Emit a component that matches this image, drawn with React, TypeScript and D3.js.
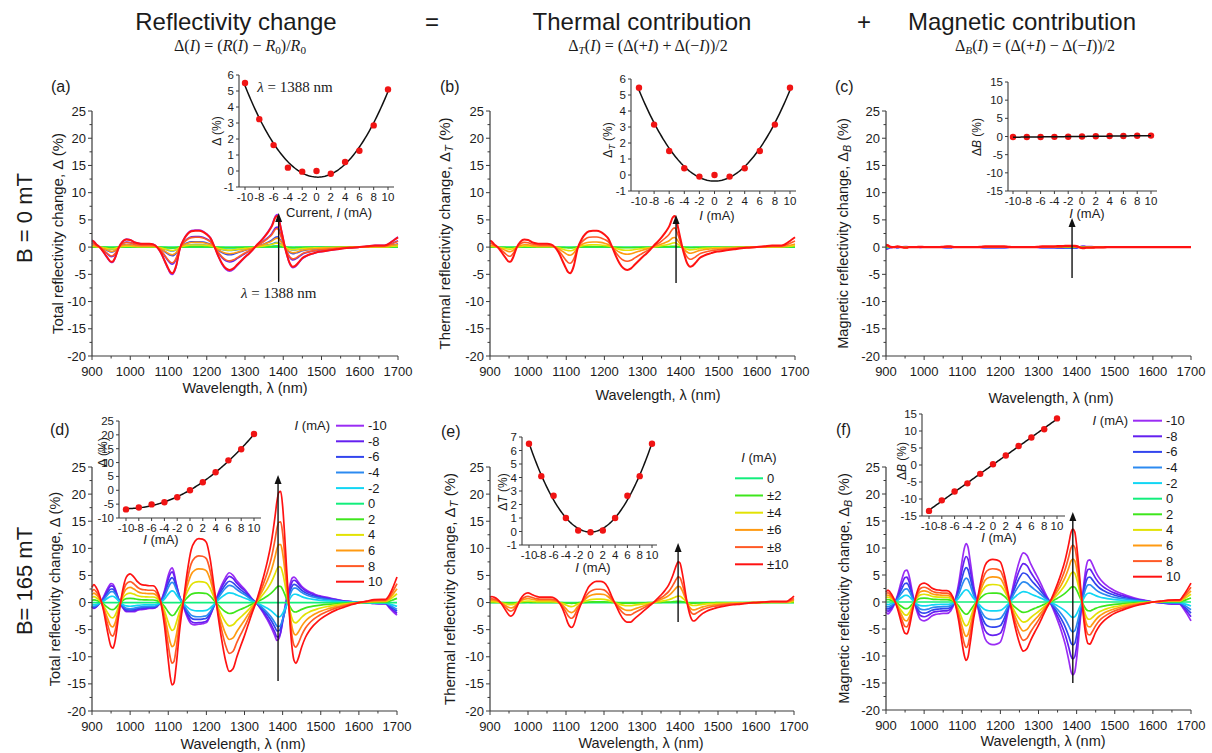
import React from "react";
import * as d3 from "d3";

const FONT = "'Liberation Sans', Arial, Helvetica, sans-serif";
const SERIF = "'Liberation Serif', 'Times New Roman', serif";
const INK = "#1b1b1b";
const AXIS = "#3a3a3a";

// ---------------- DATA ----------------
const wavelengths = [
  900, 905, 910, 920, 930, 940, 950, 955, 960, 970,
  980, 990, 1000, 1010, 1020, 1030, 1040, 1050, 1060, 1070,
  1080, 1090, 1100, 1105, 1110, 1115, 1120, 1130, 1140, 1150,
  1160, 1170, 1180, 1190, 1200, 1210, 1220, 1230, 1240, 1250,
  1260, 1270, 1280, 1290, 1300, 1310, 1320, 1330, 1340, 1350,
  1360, 1370, 1380, 1385, 1390, 1395, 1400, 1405, 1410, 1415,
  1420, 1425, 1430, 1435, 1440, 1450, 1460, 1470, 1480, 1490,
  1500, 1520, 1540, 1560, 1580, 1600, 1620, 1640, 1660, 1670,
  1680, 1690, 1700,
];

// B = 0 mT, thermal part at |I| = 10 mA (panel b, red)
const thermalB0 = [
  1.2, 1.0, 0.6, 0.0, -0.9, -1.9, -2.7, -2.6, -2.0, -0.1,
  1.0, 1.4, 1.3, 0.9, 0.7, 0.6, 0.6, 0.6, 0.5, 0.0,
  -1.0, -2.5, -4.0, -4.6, -4.8, -4.4, -3.4, -0.2, 1.4, 2.4,
  2.9, 3.0, 3.0, 2.8, 2.3, 1.6, 0.1, -1.6, -3.0, -3.9,
  -4.2, -3.9, -3.2, -2.5, -1.8, -1.2, -0.5, 0.3, 1.0, 1.8,
  2.7, 3.8, 5.5, 5.7, 4.6, 3.0, 1.4, -0.2, -1.5, -2.6,
  -3.3, -3.6, -3.5, -3.2, -2.8, -2.0, -1.6, -1.3, -1.1, -0.9,
  -0.8, -0.6, -0.4, -0.2, -0.1, 0, 0.15, 0.3, 0.3, 0.4,
  0.8, 1.3, 1.8,
];

// B = 0 mT, magnetic part at I = +10 mA (panel c, red)
const magneticB0 = [
  0.4, 0.3, 0.1, 0.0, 0.1, 0.0, -0.1, -0.1, 0.0, 0.0,
  0.0, 0.05, 0.0, 0.0, 0.0, 0.0, 0.0, 0.05, 0.1, 0.1,
  0.0, 0.0, 0.0, 0.0, 0.0, 0.0, 0.0, 0.0, 0.0, 0.05,
  0.1, 0.1, 0.1, 0.1, 0.1, 0.1, 0.05, 0.0, 0.0, 0.0,
  0.0, 0.0, 0.0, 0.0, 0.05, 0.1, 0.1, 0.1, 0.1, 0.15,
  0.15, 0.2, 0.2, 0.2, 0.2, 0.2, 0.15, 0.05, -0.1, -0.15,
  -0.15, -0.1, -0.1, -0.1, -0.1, -0.05, -0.05, -0.05, 0, 0,
  0, 0, 0, 0, 0, 0, 0, 0, 0, 0,
  0, 0, 0,
];

// B = 165 mT, thermal part at |I| = 10 mA (panel e, red)
const thermalB165 = [
  1.0, 1.1, 1.0, 0.6, -0.2, -1.3, -2.3, -2.5, -2.3, -0.9,
  0.6, 1.5, 1.8, 1.5, 1.2, 1.0, 1.0, 1.0, 1.0, 0.8,
  0.2, -1.0, -2.8, -3.8, -4.4, -4.6, -4.2, -2.0, -0.2, 1.5,
  2.9, 3.6, 3.9, 3.9, 3.7, 2.8, 1.2, -0.3, -1.8, -3.0,
  -3.6, -3.6, -3.0, -2.4, -1.8, -1.2, -0.6, 0, 0.7, 1.4,
  2.2, 3.2, 4.8, 5.8, 6.8, 7.5, 7.3, 5.8, 3.8, 1.5,
  -0.5, -2.0, -3.0, -3.4, -3.3, -2.6, -2.0, -1.6, -1.3, -1.1,
  -0.9, -0.6, -0.4, -0.3, -0.1, 0, 0.1, 0.2, 0.2, 0.2,
  0.2, 0.6, 1.2,
];

// B = 165 mT, magnetic part at I = +10 mA (panel f, red)
const magneticB165 = [
  1.8, 2.2, 1.9, 0.7, -1.2, -3.8, -5.8, -5.9, -5.0, -1.5,
  1.5, 3.2, 3.5, 3.2, 2.6, 2.3, 2.2, 2.1, 2.1, 1.6,
  0, -3.2, -7.8, -9.8, -10.8, -10.2, -8.0, -3.0, 0.6, 4.2,
  6.8, 7.7, 7.9, 7.8, 7.4, 5.2, 1.8, -1.8, -5.0, -7.6,
  -9.1, -8.6, -7.0, -5.6, -4.3, -2.8, -1.3, 0, 1.6, 3.4,
  5.4, 7.8, 11.0, 12.8, 13.5, 13.0, 10.5, 7.0, 3.0, -0.5,
  -4.0, -6.5, -7.7, -7.8, -7.2, -5.6, -4.4, -3.6, -3.0, -2.5,
  -2.1, -1.5, -1.0, -0.6, -0.3, 0, 0.15, 0.35, 0.4, 0.4,
  1.2, 2.3, 3.5,
];

const currents = [-10, -8, -6, -4, -2, 0, 2, 4, 6, 8, 10];
const currentLabels = ["-10", "-8", "-6", "-4", "-2", "0", "2", "4", "6", "8", "10"];
const currentColors = [
  "#9A2CF4", "#6420F0", "#3245EE", "#2C8AF0", "#12D6F4", "#12EE7C",
  "#3EE61C", "#E2E204", "#FF9A12", "#FF5A26", "#FF1212",
];
const thermalLabels = ["0", "±2", "±4", "±6", "±8", "±10"];

// relative amplitudes of each current's curve
const ampTotalB0 = [1.05, 0.65, 0.33, 0.15, 0.04, 0, 0.03, 0.13, 0.29, 0.6, 1.0];
const ampThermalB0 = [0, 0.03, 0.14, 0.31, 0.62, 1.0];
const ampMagneticB0 = [-1, -0.8, -0.6, -0.4, -0.2, 0, 0.2, 0.4, 0.6, 0.8, 1];
const ampThermalB165 = [0, 0.03, 0.16, 0.4, 0.63, 1.0];
const ampMagneticB165 = [-1, -0.78, -0.59, -0.41, -0.21, 0, 0.21, 0.41, 0.59, 0.78, 1];

// inset values at lambda = 1388 nm
const insetTotalB0 = [5.5, 3.24, 1.62, 0.21, -0.04, 0, -0.17, 0.56, 1.27, 2.85, 5.1];
const insetThermalB0 = [5.45, 3.15, 1.5, 0.42, -0.1, 0, -0.1, 0.42, 1.5, 3.15, 5.45];
const insetMagneticB0 = [-0.15, -0.15, -0.12, -0.1, -0.05, 0, 0.05, 0.15, 0.15, 0.2, 0.25];
const insetTotalB165 = [-6.9, -6.2, -5.1, -4.3, -2.5, 0, 2.9, 6.5, 10.8, 14.8, 20.3];
const insetThermalB165 = [6.5, 4.1, 2.65, 1.0, 0.07, -0.05, 0.07, 1.0, 2.65, 4.1, 6.5];
const insetMagneticB165 = [-13.5, -10.4, -7.8, -5.4, -2.6, 0.2, 2.8, 5.6, 8.1, 10.5, 13.7];

// ---------------- HELPERS ----------------
function polyfit(xs: number[], ys: number[], deg: number): number[] {
  const n = deg + 1;
  const A: number[][] = [];
  for (let r = 0; r < n; r++) {
    const row: number[] = [];
    for (let c = 0; c < n; c++) row.push(d3.sum(xs, (x) => Math.pow(x, r + c)));
    row.push(d3.sum(xs.map((x, i) => Math.pow(x, r) * ys[i])));
    A.push(row);
  }
  for (let i = 0; i < n; i++) {
    let p = i;
    for (let k = i + 1; k < n; k++) if (Math.abs(A[k][i]) > Math.abs(A[p][i])) p = k;
    const t = A[i]; A[i] = A[p]; A[p] = t;
    for (let k = i + 1; k < n; k++) {
      const f = A[k][i] / A[i][i];
      for (let c = i; c <= n; c++) A[k][c] -= f * A[i][c];
    }
  }
  const coef = new Array(n).fill(0);
  for (let i = n - 1; i >= 0; i--) {
    let s = A[i][n];
    for (let c = i + 1; c < n; c++) s -= A[i][c] * coef[c];
    coef[i] = s / A[i][i];
  }
  return coef;
}

type Series = { color: string; values: number[]; width: number };

function Arrow({ x, yFrom, yTo }: { x: number; yFrom: number; yTo: number }) {
  return (
    <g>
      <line x1={x} x2={x} y1={yFrom} y2={yTo + 7} stroke="#111" strokeWidth={1.4} />
      <path d={`M${x},${yTo} L${x - 3.5},${yTo + 9} L${x + 3.5},${yTo + 9} Z`} fill="#111" />
    </g>
  );
}

function MainPanel(props: {
  x0: number; x1: number; y0: number; y1: number; series: Series[];
  ylabel: React.ReactNode; ylabelX: number; ylabelSize: number; xlabelX: number; xlabelY: number;
  tag: string; tagX: number; tagY: number;
}) {
  const { x0, x1, y0, y1, series } = props;
  const xs = d3.scaleLinear().domain([900, 1700]).range([x0, x1]);
  const ys = d3.scaleLinear().domain([-20, 25]).range([y1, y0]);
  const line = d3
    .line<number>()
    .x((_, i) => xs(wavelengths[i]))
    .y((d) => ys(d))
    .curve(d3.curveMonotoneX);
  const yMajor = d3.range(-20, 26, 5);
  const yMinor = d3.range(-17.5, 25, 5);
  const xMajor = d3.range(900, 1701, 100);
  const xMinor = d3.range(950, 1700, 100);
  return (
    <g>
      {series.map((s, i) => (
        <path key={i} d={line(s.values) || ""} fill="none" stroke={s.color}
          strokeWidth={s.width} strokeLinejoin="round" />
      ))}
      <line x1={x0} x2={x0} y1={y0} y2={y1} stroke={AXIS} strokeWidth={1.2} />
      <line x1={x0} x2={x1} y1={y1} y2={y1} stroke={AXIS} strokeWidth={1.2} />
      {yMajor.map((v) => (
        <g key={"ym" + v}>
          <line x1={x0 - 4} x2={x0} y1={ys(v)} y2={ys(v)} stroke={AXIS} strokeWidth={1} />
          <text x={x0 - 6} y={ys(v) + 4.5} fontSize={13} textAnchor="end" fontFamily={FONT} fill={INK}>{v}</text>
        </g>
      ))}
      {yMinor.map((v) => (
        <line key={"yn" + v} x1={x0 - 2.5} x2={x0} y1={ys(v)} y2={ys(v)} stroke={AXIS} strokeWidth={1} />
      ))}
      {xMajor.map((v) => (
        <g key={"xm" + v}>
          <line x1={xs(v)} x2={xs(v)} y1={y1} y2={y1 + 4} stroke={AXIS} strokeWidth={1} />
          <text x={xs(v)} y={y1 + 19.5} fontSize={13} textAnchor="middle" fontFamily={FONT} fill={INK}>{v}</text>
        </g>
      ))}
      {xMinor.map((v) => (
        <line key={"xn" + v} x1={xs(v)} x2={xs(v)} y1={y1} y2={y1 + 2.5} stroke={AXIS} strokeWidth={1} />
      ))}
      <text transform={`translate(${props.ylabelX},${(y0 + y1) / 2}) rotate(-90)`} fontSize={props.ylabelSize}
        textAnchor="middle" fontFamily={FONT} fill={INK}>{props.ylabel}</text>
      <text x={props.xlabelX} y={props.xlabelY} fontSize={14.5} textAnchor="middle" fontFamily={FONT} fill={INK}>
        Wavelength, λ (nm)
      </text>
      <text x={props.tagX} y={props.tagY} fontSize={16} fontFamily={FONT} fill={INK}>{props.tag}</text>
    </g>
  );
}

function Inset(props: {
  axL: number; axR: number; xm10: number; xp10: number;
  yT: number; yB: number; vT: number; vB: number; yStep: number;
  values: number[]; deg: number; lineOnTop?: boolean;
  ylabel: React.ReactNode; ylabelX: number; ylabelY: number;
  xlabel: React.ReactNode; xlabelX: number; xlabelY: number;
}) {
  const { axL, axR, yT, yB, vT, vB } = props;
  const xs = d3.scaleLinear().domain([-10, 10]).range([props.xm10, props.xp10]);
  const ys = d3.scaleLinear().domain([vB, vT]).range([yB, yT]);
  const coef = polyfit(currents, props.values, props.deg);
  const fitX = d3.range(-10, 10.0001, 0.2);
  const fitLine = d3
    .line<number>()
    .x((x) => xs(x))
    .y((x) => ys(coef.reduce((s, c, k) => s + c * Math.pow(x, k), 0)));
  const yTicks = d3.range(vB, vT + 0.001, props.yStep);
  const fit = <path d={fitLine(fitX) || ""} fill="none" stroke="#111" strokeWidth={1.5} />;
  const dots = currents.map((c, i) => (
    <circle key={"p" + c} cx={xs(c)} cy={ys(props.values[i])} r={3.2} fill="#F01414" />
  ));
  return (
    <g>
      <line x1={axL} x2={axL} y1={yT} y2={yB} stroke={AXIS} strokeWidth={1.1} />
      <line x1={axL} x2={axR} y1={yB} y2={yB} stroke={AXIS} strokeWidth={1.1} />
      {yTicks.map((v) => (
        <g key={"t" + v}>
          <line x1={axL - 3} x2={axL} y1={ys(v)} y2={ys(v)} stroke={AXIS} strokeWidth={1} />
          <text x={axL - 5} y={ys(v) + 4} fontSize={11.5} textAnchor="end" fontFamily={FONT} fill={INK}>{v}</text>
        </g>
      ))}
      {currents.map((c, i) => (
        <g key={"x" + c}>
          <line x1={xs(c)} x2={xs(c)} y1={yB} y2={yB + 3} stroke={AXIS} strokeWidth={1} />
          <text x={xs(c)} y={yB + 13.5} fontSize={11.5} textAnchor="middle" fontFamily={FONT} fill={INK}>
            {currentLabels[i]}
          </text>
        </g>
      ))}
      {props.lineOnTop ? <g>{dots}{fit}</g> : <g>{fit}{dots}</g>}
      <text transform={`translate(${props.ylabelX},${props.ylabelY}) rotate(-90)`} fontSize={12}
        textAnchor="middle" fontFamily={FONT} fill={INK}>{props.ylabel}</text>
      <text x={props.xlabelX} y={props.xlabelY} fontSize={13} textAnchor="middle" fontFamily={FONT} fill={INK}>
        {props.xlabel}
      </text>
    </g>
  );
}

function Legend(props: {
  labels: string[]; colors: string[]; titleX: number; titleY: number; titleAnchor: string;
  lineX0: number; lineX1: number; rowY0: number; rowDy: number;
}) {
  return (
    <g fontFamily={FONT} fill={INK}>
      <text x={props.titleX} y={props.titleY + 4.5} fontSize={13} textAnchor={props.titleAnchor as any}>
        <tspan fontStyle="italic">I</tspan> (mA)
      </text>
      {props.labels.map((l, i) => {
        const y = props.rowY0 + i * props.rowDy;
        return (
          <g key={l}>
            <line x1={props.lineX0} x2={props.lineX1} y1={y} y2={y} stroke={props.colors[i]} strokeWidth={2} />
            <text x={props.lineX1 + 4} y={y + 4.5} fontSize={13}>{l}</text>
          </g>
        );
      })}
    </g>
  );
}

const Sub = ({ t }: { t: string }) => (
  <tspan fontStyle="italic" fontSize="75%" dy={3}>{t}</tspan>
);

export default function App() {
  const seriesA: Series[] = currents.map((c, i) => ({
    color: currentColors[i], width: i === 10 ? 2 : 1.6,
    values: thermalB0.map((v) => v * ampTotalB0[i]),
  }));
  const seriesB: Series[] = thermalLabels.map((l, k) => ({
    color: currentColors[5 + k], width: k === 5 ? 2 : 1.6,
    values: thermalB0.map((v) => v * ampThermalB0[k]),
  }));
  const seriesC: Series[] = currents.map((c, i) => ({
    color: currentColors[i], width: i === 10 ? 2.4 : 1.6,
    values: magneticB0.map((v) => v * ampMagneticB0[i]),
  }));
  const seriesD: Series[] = currents.map((c, i) => {
    const k = Math.abs(c) / 2;
    return {
      color: currentColors[i], width: 1.7,
      values: wavelengths.map((_, j) => thermalB165[j] * ampThermalB165[k] + magneticB165[j] * ampMagneticB165[i]),
    };
  });
  const seriesE: Series[] = thermalLabels.map((l, k) => ({
    color: currentColors[5 + k], width: 1.7,
    values: thermalB165.map((v) => v * ampThermalB165[k]),
  }));
  const seriesF: Series[] = currents.map((c, i) => ({
    color: currentColors[i], width: 1.7,
    values: magneticB165.map((v) => v * ampMagneticB165[i]),
  }));
  const xA = d3.scaleLinear().domain([900, 1700]).range([92, 398]);
  const xB = d3.scaleLinear().domain([900, 1700]).range([490, 795]);
  const xC = d3.scaleLinear().domain([900, 1700]).range([886, 1191]);
  const xD = d3.scaleLinear().domain([900, 1700]).range([92, 397]);
  const xE = d3.scaleLinear().domain([900, 1700]).range([490, 794]);
  const xF = d3.scaleLinear().domain([900, 1700]).range([886, 1191]);

  return (
    <div style={{ position: "absolute", left: 0, top: 0 }}>
      <svg width={1212} height={753} style={{ display: "block", background: "#fff" }}>
        {/* headers */}
        <g fontFamily={FONT} fill={INK} fontSize={24} textAnchor="middle">
          <text x={236} y={30}>Reflectivity change</text>
          <text x={432} y={30}>=</text>
          <text x={642} y={30}>Thermal contribution</text>
          <text x={864} y={30}>+</text>
          <text x={1022} y={30}>Magnetic contribution</text>
        </g>
        <g fontFamily={SERIF} fill={INK} fontSize={16} textAnchor="middle">
          <text x={240} y={51}>
            Δ(<tspan fontStyle="italic">I</tspan>) = (<tspan fontStyle="italic">R</tspan>(<tspan fontStyle="italic">I</tspan>) − <tspan fontStyle="italic">R</tspan><tspan fontSize="70%" dy={3}>0</tspan><tspan dy={-3}>)/</tspan><tspan fontStyle="italic">R</tspan><tspan fontSize="70%" dy={3}>0</tspan>
          </text>
          <text x={648} y={51}>
            Δ<tspan fontStyle="italic" fontSize="70%" dy={3}>T</tspan><tspan dy={-3}>(</tspan><tspan fontStyle="italic">I</tspan>) = (Δ(+<tspan fontStyle="italic">I</tspan>) + Δ(−<tspan fontStyle="italic">I</tspan>))/2
          </text>
          <text x={1035} y={51}>
            Δ<tspan fontStyle="italic" fontSize="70%" dy={3}>B</tspan><tspan dy={-3}>(</tspan><tspan fontStyle="italic">I</tspan>) = (Δ(+<tspan fontStyle="italic">I</tspan>) − Δ(−<tspan fontStyle="italic">I</tspan>))/2
          </text>
        </g>
        {/* row labels */}
        <text transform="translate(32,218) rotate(-90)" fontSize={22} textAnchor="middle" fontFamily={FONT} fill={INK}>B = 0 mT</text>
        <text transform="translate(32,581) rotate(-90)" fontSize={22} textAnchor="middle" fontFamily={FONT} fill={INK}>B= 165 mT</text>

        {/* (a) */}
        <MainPanel x0={92} x1={398} y0={111} y1={356} series={seriesA}
          ylabel={<>Total reflectivity change, Δ (%)</>} ylabelX={63} ylabelSize={15}
          xlabelX={245} xlabelY={393} tag="(a)" tagX={51} tagY={92} />
        <Arrow x={xA(1388)} yFrom={282} yTo={213} />
        <text x={xA(1388)} y={298} fontSize={15} textAnchor="middle" fontFamily={SERIF} fill={INK}>
          <tspan fontStyle="italic">λ</tspan> = 1388 nm
        </text>
        <Inset axL={239} axR={394} xm10={245} xp10={388} yT={75} yB={187} vT={6} vB={-1} yStep={1}
          values={insetTotalB0} deg={2}
          ylabel={<>Δ (%)</>} ylabelX={221} ylabelY={131}
          xlabel={<>Current, <tspan fontStyle="italic">I</tspan> (mA)</>} xlabelX={329} xlabelY={217} />
        <text x={295} y={92} fontSize={15} textAnchor="middle" fontFamily={SERIF} fill={INK}>
          <tspan fontStyle="italic">λ</tspan> = 1388 nm
        </text>

        {/* (b) */}
        <MainPanel x0={490} x1={795} y0={111} y1={356} series={seriesB}
          ylabel={<>Thermal reflectivity change, Δ<Sub t="T" /><tspan dy={-3}> (%)</tspan></>} ylabelX={450} ylabelSize={15}
          xlabelX={658} xlabelY={400} tag="(b)" tagX={440} tagY={92} />
        <Arrow x={xB(1388)} yFrom={283} yTo={215} />
        <Inset axL={631} axR={796} xm10={639} xp10={790} yT={79} yB={191} vT={6} vB={-1} yStep={1}
          values={insetThermalB0} deg={2}
          ylabel={<>Δ<Sub t="T" /><tspan dy={-3}> (%)</tspan></>} ylabelX={612} ylabelY={140}
          xlabel={<><tspan fontStyle="italic">I</tspan> (mA)</>} xlabelX={717} xlabelY={220} />

        {/* (c) */}
        <MainPanel x0={886} x1={1191} y0={111} y1={356} series={seriesC}
          ylabel={<>Magnetic reflectivity change, Δ<Sub t="B" /><tspan dy={-3}> (%)</tspan></>} ylabelX={848} ylabelSize={14.5}
          xlabelX={1051} xlabelY={403} tag="(c)" tagX={835} tagY={92} />
        <Arrow x={xC(1388)} yFrom={278} yTo={218} />
        <Inset axL={1008} axR={1157} xm10={1013} xp10={1151} yT={82} yB={191} vT={15} vB={-15} yStep={5}
          values={insetMagneticB0} deg={1} lineOnTop
          ylabel={<>Δ<tspan fontStyle="italic">B</tspan> (%)</>} ylabelX={981} ylabelY={137}
          xlabel={<><tspan fontStyle="italic">I</tspan> (mA)</>} xlabelX={1087} xlabelY={218} />

        {/* (d) */}
        <MainPanel x0={92} x1={397} y0={467} y1={711} series={seriesD}
          ylabel={<>Total reflectivity change, Δ (%)</>} ylabelX={60} ylabelSize={14.5}
          xlabelX={243} xlabelY={749} tag="(d)" tagX={50} tagY={435} />
        <Arrow x={xD(1388)} yFrom={681} yTo={475} />
        <Inset axL={119} axR={261} xm10={126} xp10={254} yT={421} yB={518} vT={25} vB={-10} yStep={5}
          values={insetTotalB165} deg={2}
          ylabel={<>Δ (%)</>} ylabelX={107} ylabelY={452}
          xlabel={<><tspan fontStyle="italic">I</tspan> (mA)</>} xlabelX={161} xlabelY={544} />
        <Legend labels={currentLabels} colors={currentColors} titleX={330} titleY={425.7} titleAnchor="end"
          lineX0={336} lineX1={364} rowY0={425.7} rowDy={15.6} />

        {/* (e) */}
        <MainPanel x0={490} x1={794} y0={467} y1={711} series={seriesE}
          ylabel={<>Thermal reflectivity change, Δ<Sub t="T" /><tspan dy={-3}> (%)</tspan></>} ylabelX={455} ylabelSize={15}
          xlabelX={641} xlabelY={748} tag="(e)" tagX={441} tagY={437} />
        <Arrow x={xE(1395)} yFrom={622} yTo={543} />
        <Inset axL={522} axR={657} xm10={529} xp10={652} yT={437} yB={545} vT={7} vB={-1} yStep={1}
          values={insetThermalB165} deg={2}
          ylabel={<>Δ<tspan fontStyle="italic">T</tspan> (%)</>} ylabelX={507} ylabelY={492}
          xlabel={<><tspan fontStyle="italic">I</tspan> (mA)</>} xlabelX={593} xlabelY={572} />
        <Legend labels={thermalLabels} colors={currentColors.slice(5)} titleX={759} titleY={457.7} titleAnchor="middle"
          lineX0={735} lineX1={763} rowY0={478.3} rowDy={17.2} />

        {/* (f) */}
        <MainPanel x0={886} x1={1191} y0={467} y1={710} series={seriesF}
          ylabel={<>Magnetic reflectivity change, Δ<Sub t="B" /><tspan dy={-3}> (%)</tspan></>} ylabelX={849} ylabelSize={14.5}
          xlabelX={1043} xlabelY={746} tag="(f)" tagX={836} tagY={435} />
        <Arrow x={xF(1390)} yFrom={683} yTo={512} />
        <Inset axL={922} axR={1065} xm10={929} xp10={1057} yT={414} yB={516} vT={15} vB={-15} yStep={5}
          values={insetMagneticB165} deg={1}
          ylabel={<>Δ<tspan fontStyle="italic">B</tspan> (%)</>} ylabelX={906} ylabelY={461}
          xlabel={<><tspan fontStyle="italic">I</tspan> (mA)</>} xlabelX={999} xlabelY={542} />
        <Legend labels={currentLabels} colors={currentColors} titleX={1128} titleY={420.7} titleAnchor="end"
          lineX0={1133} lineX1={1162} rowY0={420.7} rowDy={15.6} />
      </svg>
    </div>
  );
}
